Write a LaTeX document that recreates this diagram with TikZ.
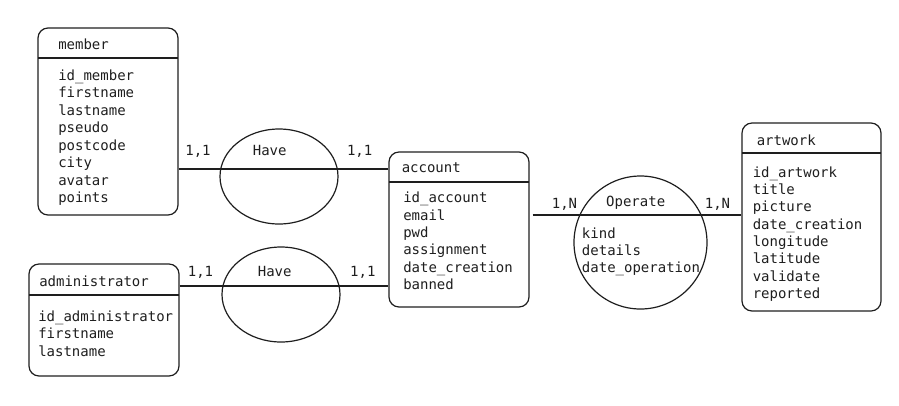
\documentclass[tikz,border=0pt]{standalone}
\usepackage{fontspec}
\setmonofont{DejaVu Sans Mono}
\usetikzlibrary{shapes.geometric,fit}
\definecolor{ink}{HTML}{1E1E1E}
\begin{document}
\begin{tikzpicture}[x=0.75pt,y=-0.75pt,
  every node/.style={text=ink},
  font=\ttfamily\fontsize{10.5}{13}\selectfont,
  entity/.style={draw=ink, line width=0.9pt, rounded corners=7.5pt, inner sep=0pt},
  sepline/.style={draw=ink, line width=0.9pt},
  link/.style={draw=ink, line width=0.9pt},
  relation/.style={draw=ink, ellipse, line width=0.9pt, inner sep=0pt},
  txt/.style={anchor=base west, inner sep=0pt, yshift=-1.1pt},
  lbl/.style={anchor=base, inner sep=0pt, yshift=-1.1pt}]
\useasboundingbox (0,0) rectangle (899,405);

% ---------- entities ----------
\node[entity, fit={(38,28) (178,215)}] (member) {};
\draw[sepline] (38,58) -- (178,58);
\node[txt] (membert) at (58,48) {member};
\foreach \t [count=\i] in {id\_member,firstname,lastname,pseudo,postcode,city,avatar,points}
  \node[txt] (m\i) at (58,{79+17.43*(\i-1)}) {\t};

\node[entity, fit={(29,264) (179,376)}] (admin) {};
\draw[sepline] (29,295) -- (179,295);
\node[txt] (admint) at (39,285) {administrator};
\foreach \t [count=\i] in {id\_administrator,firstname,lastname}
  \node[txt] (a\i) at (38,{320+17.4*(\i-1)}) {\t};

\node[entity, fit={(389,152) (529,307)}] (account) {};
\draw[sepline] (389,182) -- (529,182);
\node[txt] (accountt) at (401.5,171) {account};
\foreach \t [count=\i] in {id\_account,email,pwd,assignment,date\_creation,banned}
  \node[txt] (c\i) at (403,{201.3+17.4*(\i-1)}) {\t};

\node[entity, fit={(742,123) (881,311)}] (artwork) {};
\draw[sepline] (742,153) -- (881,153);
\node[txt] (artworkt) at (756.5,144.5) {artwork};
\foreach \t [count=\i] in {id\_artwork,title,picture,date\_creation,longitude,latitude,validate,reported}
  \node[txt] (w\i) at (752.5,{175.6+17.37*(\i-1)}) {\t};

% ---------- relations ----------
\node[relation, minimum width=88.5pt, minimum height=71.25pt] (have1) at (279,176.5) {};
\node[relation, minimum width=88.5pt, minimum height=71.25pt] (have2) at (281,294.5) {};
\node[relation, minimum width=99.75pt, minimum height=99.75pt] (operate) at (640.5,242.5) {};

\coordinate (y1) at (0,169);
\coordinate (y2) at (0,286);
\coordinate (y3) at (0,215);

\draw[link] (member.east |- y1) -- (account.west |- y1);
\draw[link] (admin.east |- y2) -- (account.west |- y2);
\draw[link] ([xshift=2.25pt]account.east |- y3) -- (artwork.west |- y3);

\node[lbl] (have1t) at (269.7,154.5) {Have};
\node[lbl] (h1l) at (198,154.5) {1,1};
\node[lbl] (h1r) at (359.7,154.5) {1,1};

\node[lbl] (have2t) at (274.7,275.5) {Have};
\node[lbl] (h2l) at (200.5,275.5) {1,1};
\node[lbl] (h2r) at (362.8,275.5) {1,1};

\node[lbl] (operatet) at (635.7,205.5) {Operate};
\node[lbl] (ol) at (564.5,207) {1,N};
\node[lbl] (or) at (717.5,207) {1,N};
\foreach \t [count=\i] in {kind,details,date\_operation}
  \node[txt] (o\i) at (581.7,{236.7+17.3*(\i-1)}) {\t};
\end{tikzpicture}
\end{document}
